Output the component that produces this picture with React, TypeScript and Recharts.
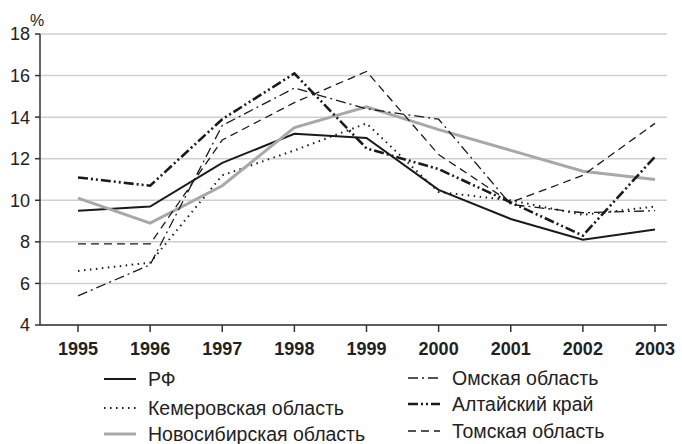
import { CartesianGrid, Legend, Line, LineChart, XAxis, YAxis } from 'recharts'

const years = [1995, 1996, 1997, 1998, 1999, 2000, 2001, 2002, 2003]
const rf = [9.5, 9.7, 11.8, 13.2, 13.0, 10.5, 9.1, 8.1, 8.6]
const kemerovo = [6.6, 7.0, 11.2, 12.4, 13.7, 10.4, 10.0, 9.3, 9.7]
const novosibirsk = [10.1, 8.9, 10.7, 13.5, 14.5, 13.4, 12.4, 11.4, 11.0]
const omsk = [5.4, 6.9, 13.6, 15.4, 14.4, 13.9, 9.8, 9.4, 9.5]
const altai = [11.1, 10.7, 13.9, 16.1, 12.5, 11.5, 9.9, 8.3, 12.1]
const tomsk = [7.9, 7.9, 12.9, 14.7, 16.2, 12.2, 9.9, 11.2, 13.7]
const yTicks = [4, 6, 8, 10, 12, 14, 16, 18]

const data = years.map((year, i) => ({
  year,
  rf: rf[i],
  kemerovo: kemerovo[i],
  novosibirsk: novosibirsk[i],
  omsk: omsk[i],
  altai: altai[i],
  tomsk: tomsk[i],
}))

const series = [
  { key: 'rf', name: 'РФ', stroke: '#1a1a1a', width: 2, dash: undefined as string | undefined },
  { key: 'kemerovo', name: 'Кемеровская область', stroke: '#1a1a1a', width: 2, dash: '1.5 4.5' },
  { key: 'novosibirsk', name: 'Новосибирская область', stroke: '#a8a8a8', width: 3, dash: undefined },
  { key: 'omsk', name: 'Омская область', stroke: '#1a1a1a', width: 1.3, dash: '10 4 2 4' },
  { key: 'altai', name: 'Алтайский край', stroke: '#1a1a1a', width: 2.6, dash: '10 3 2 3 2 3' },
  { key: 'tomsk', name: 'Томская область', stroke: '#1a1a1a', width: 1.3, dash: '8 5' },
]

const font = 'Liberation Sans, Arial, sans-serif'

function LegendBox() {
  const rows = [
    { s: series[0], x: 4, y: 17 },
    { s: series[1], x: 4, y: 46 },
    { s: series[2], x: 4, y: 72 },
    { s: series[3], x: 308, y: 16 },
    { s: series[4], x: 308, y: 42 },
    { s: series[5], x: 308, y: 69 },
  ]
  return (
    <svg width={580} height={84} style={{ display: 'block' }}>
      {rows.map(({ s, x, y }) => (
        <g key={s.key}>
          <line x1={x} x2={x + 32} y1={y} y2={y} stroke={s.stroke} strokeWidth={s.width} strokeDasharray={s.dash} />
          <text x={x + 44} y={y + 7} fontSize={19.5} fontFamily={font} fill="#222">
            {s.name}
          </text>
        </g>
      ))}
    </svg>
  )
}

export default function App() {
  return (
    <div style={{ position: 'absolute', left: 0, top: 0, background: '#fff' }}>
      <LineChart width={682} height={444} data={data} margin={{ top: 34, right: 15, bottom: 5, left: 0 }}>
        <CartesianGrid vertical={false} stroke="#cfcfcf" strokeWidth={1.5} />
        <XAxis
          dataKey="year"
          type="number"
          domain={[1995, 2003]}
          ticks={years}
          padding={{ left: 38, right: 12 }}
          height={30}
          stroke="#333"
          strokeWidth={1.5}
          tickSize={7}
          tickMargin={10}
          tick={{ fontSize: 18, fontWeight: 'bold', fill: '#222', fontFamily: font }}
        />
        <YAxis
          domain={[4, 18]}
          ticks={yTicks}
          width={40}
          stroke="#333"
          strokeWidth={1.5}
          tickSize={5}
          tickMargin={5}
          tick={{ fontSize: 18, fill: '#222', fontFamily: font }}
          label={{
            content: () => (
              <text x={30} y={26} fontSize={16} fontFamily={font} fill="#222">
                %
              </text>
            ),
          }}
        />
        <Legend content={<LegendBox />} wrapperStyle={{ position: 'absolute', left: 100, top: 362, width: 580 }} />
        {series.map((s) => (
          <Line
            key={s.key}
            dataKey={s.key}
            name={s.name}
            stroke={s.stroke}
            strokeWidth={s.width}
            strokeDasharray={s.dash}
            dot={false}
            activeDot={false}
            type="linear"
            isAnimationActive={false}
          />
        ))}
      </LineChart>
    </div>
  )
}
